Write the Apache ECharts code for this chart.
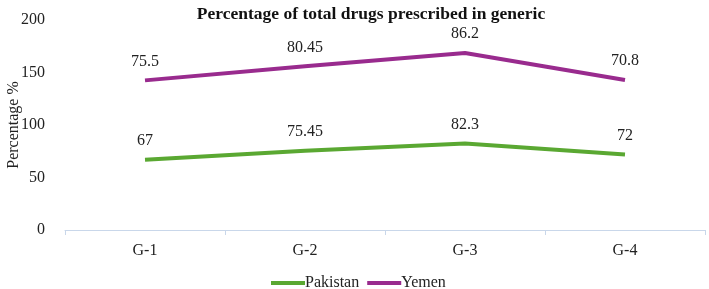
<!DOCTYPE html>
<html>
<head>
<meta charset="utf-8">
<script src="https://cdn.jsdelivr.net/npm/echarts@6/dist/echarts.min.js"></script>
<style>
  html, body { margin: 0; padding: 0; background: #fff; }
  #chart { width: 709px; height: 289px; }
</style>
</head>
<body>
<div id="chart"></div>
<script>
const categories = ['G-1', 'G-2', 'G-3', 'G-4']
const pakistan = [67, 75.45, 82.3, 72]
const yemen = [75.5, 80.45, 86.2, 70.8]
const yTicks = { min: 0, max: 200, interval: 50 }

const font = '"Liberation Serif", "Times New Roman", serif'

const chart = echarts.init(document.getElementById('chart'), null, { renderer: 'canvas' })

const lineSeries = (name, data, color) => ({
  name,
  type: 'line',
  stack: 'total',
  data,
  symbol: 'circle',
  symbolSize: 0,
  showSymbol: true,
  lineStyle: { color, width: 4 },
  itemStyle: { color },
  label: {
    show: true,
    position: 'top',
    distance: 11,
    color: '#222',
    fontFamily: font,
    fontSize: 16
  }
})

chart.setOption({
  animation: false,
  title: {
    text: 'Percentage of total drugs prescribed in generic',
    left: 366,
    textAlign: 'center',
    top: 0,
    textStyle: { fontFamily: font, fontWeight: 'bold', fontSize: 17.5, color: '#111' }
  },
  grid: { left: 65, right: 4, top: 20, bottom: 59, outerBoundsMode: 'none' },
  legend: {
    top: 270,
    left: 266,
    itemWidth: 34,
    itemHeight: 4,
    itemGap: 8,
    icon: 'rect',
    textStyle: { fontFamily: font, fontSize: 16, color: '#222', padding: [0, 0, 0, -5] },
    data: ['Pakistan', 'Yemen']
  },
  xAxis: {
    type: 'category',
    data: categories,
    axisLine: { lineStyle: { color: '#c9d7ea', width: 1 } },
    axisTick: { show: true, lineStyle: { color: '#c9d7ea' }, length: 5 },
    axisLabel: { fontFamily: font, fontSize: 16, color: '#222', margin: 13 }
  },
  yAxis: {
    type: 'value',
    min: yTicks.min,
    max: yTicks.max,
    interval: yTicks.interval,
    name: 'Percentage %',
    nameLocation: 'middle',
    nameGap: 43,
    nameMoveOverlap: false,
    nameTextStyle: { fontFamily: font, fontSize: 16, color: '#222' },
    axisLine: { show: false },
    axisTick: { show: false },
    splitLine: { show: false },
    axisLabel: { fontFamily: font, fontSize: 16, color: '#222', margin: 20 }
  },
  series: [
    lineSeries('Pakistan', pakistan, '#5aa832'),
    lineSeries('Yemen', yemen, '#992b8e')
  ]
})
</script>
</body>
</html>
